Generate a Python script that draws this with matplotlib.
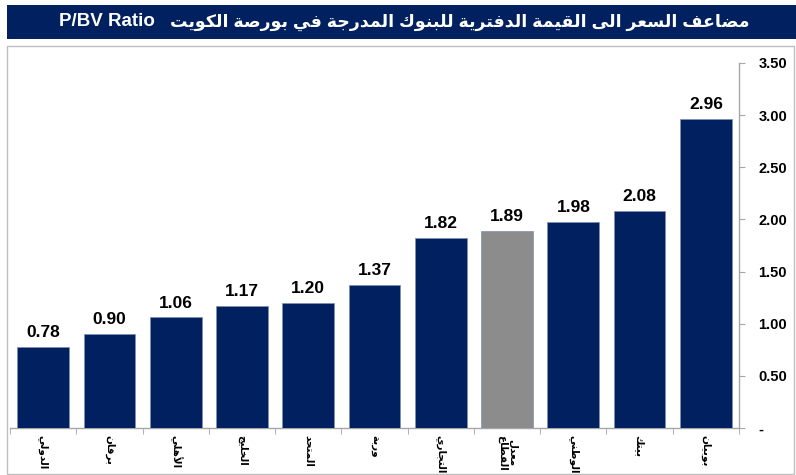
import matplotlib
matplotlib.use('Agg')
import matplotlib.pyplot as plt
import numpy as np
from matplotlib.patches import Rectangle

plt.rcParams['font.family'] = ['Liberation Sans', 'DejaVu Sans']

banks = ['الدولي', 'برقان', 'الأهلي', 'الخليج', 'المتحد', 'وربة', 'التجاري',
         'معدل\nالقطاع', 'الوطني', 'بيتك', 'بوبيان']
pbv = [0.78, 0.90, 1.06, 1.17, 1.20, 1.37, 1.82, 1.89, 1.98, 2.08, 2.96]
avg_idx = 7
yticks = [0, 0.5, 1.0, 1.5, 2.0, 2.5, 3.0, 3.5]
ytick_labels = ['-', '0.50', '1.00', '1.50', '2.00', '2.50', '3.00', '3.50']
title_ar = 'مضاعف السعر الى القيمة الدفترية للبنوك المدرجة في بورصة الكويت'
title_en = 'P/BV Ratio'

NAVY = '#002060'
GREY = '#8c8c8c'

# minimal arabic shaping (no raqm in matplotlib): letter -> (isolated form, n forms)
FORMS = {
    'ا': (0xFE8D, 2), 'أ': (0xFE83, 2), 'ب': (0xFE8F, 4), 'ة': (0xFE93, 2),
    'ت': (0xFE95, 4), 'ج': (0xFE9D, 4), 'ح': (0xFEA1, 4), 'خ': (0xFEA5, 4),
    'د': (0xFEA9, 2), 'ر': (0xFEAD, 2), 'س': (0xFEB1, 4), 'ص': (0xFEB9, 4),
    'ض': (0xFEBD, 4), 'ط': (0xFEC1, 4), 'ع': (0xFEC9, 4), 'ف': (0xFED1, 4),
    'ق': (0xFED5, 4), 'ك': (0xFED9, 4), 'ل': (0xFEDD, 4), 'م': (0xFEE1, 4),
    'ن': (0xFEE5, 4), 'ه': (0xFEE9, 4), 'و': (0xFEED, 2), 'ى': (0xFEEF, 2),
    'ي': (0xFEF1, 4),
}


def shape_line(s):
    out = []
    i = 0
    while i < len(s):
        c = s[i]
        if c not in FORMS:
            out.append(c)
            i += 1
            continue
        prev = s[i - 1] if i > 0 else None
        joins_prev = prev in FORMS and FORMS[prev][1] == 4
        nxt = s[i + 1] if i + 1 < len(s) else None
        if c == 'ل' and nxt in ('ا', 'أ'):
            base = 0xFEFB if nxt == 'ا' else 0xFEF7
            out.append(chr(base + (1 if joins_prev else 0)))
            i += 2
            continue
        base, k = FORMS[c]
        joins_next = k == 4 and nxt in FORMS
        if joins_prev and joins_next:
            f = 3
        elif joins_prev:
            f = 1
        elif joins_next:
            f = 2
        else:
            f = 0
        out.append(chr(base + f))
        i += 1
    return ''.join(reversed(out))


def shape(s):
    return '\n'.join(shape_line(l) for l in s.split('\n'))


W, H = 796, 475
fig = plt.figure(figsize=(W / 100, H / 100), dpi=100)

# title band and chart frame
fig.patches.append(Rectangle((7 / W, 1 - 39 / H), 789 / W, 34 / H, transform=fig.transFigure,
                             facecolor=NAVY, edgecolor='none', zorder=0))
fig.patches.append(Rectangle((7 / W, 1 - 474 / H), 787 / W, 428 / H, transform=fig.transFigure,
                             facecolor='none', edgecolor='#bfbfbf', lw=1, zorder=0))
t_ar = fig.text(750 / W, 1 - 22 / H, shape(title_ar), color='white',
                fontsize=12.5, fontweight='bold', ha='right', va='center')
renderer = fig.canvas.get_renderer()
ar_left = t_ar.get_window_extent(renderer).x0
fig.text((ar_left - 16) / W, 1 - 22 / H, title_en, color='white',
         fontsize=13.5, fontweight='bold', ha='right', va='center')

ax = fig.add_axes([10 / W, 1 - 428 / H, 729 / W, 365 / H])
x = np.arange(len(pbv))
colors = [GREY if i == avg_idx else NAVY for i in x]
bars = ax.bar(x, pbv, width=0.78, color=colors, edgecolor='#7f8fb0', linewidth=0.5, zorder=3)
for b, v in zip(bars, pbv):
    ax.annotate(f'{v:.2f}', (b.get_x() + b.get_width() / 2, v), xytext=(0, 5),
                textcoords='offset points', ha='center', va='bottom',
                fontsize=12.5, fontweight='bold')

ax.set_xlim(-0.5, len(pbv) - 0.5)
ax.set_ylim(0, 3.5)
ax.yaxis.tick_right()
ax.set_yticks(yticks)
ax.set_yticklabels(ytick_labels, fontsize=10.5, fontweight='bold')
ax.tick_params(axis='y', direction='out', length=4, color='#a6a6a6', pad=10)
for lbl in ax.get_yticklabels():
    lbl.set_horizontalalignment('left')

ax.set_xticks(x)
ax.set_xticklabels([shape(b) for b in banks], rotation=270, fontsize=7.5,
                   fontweight='bold', va='top', ha='center', linespacing=1.0)
ax.tick_params(axis='x', length=0, pad=5)
ax.set_xticks(np.arange(len(pbv) + 1) - 0.5, minor=True)
ax.tick_params(axis='x', which='minor', length=4, color='#a6a6a6', direction='out')

for s in ['left', 'top']:
    ax.spines[s].set_visible(False)
for s in ['bottom', 'right']:
    ax.spines[s].set_color('#a6a6a6')
    ax.spines[s].set_linewidth(1)

fig.savefig('out.png', dpi=100)
